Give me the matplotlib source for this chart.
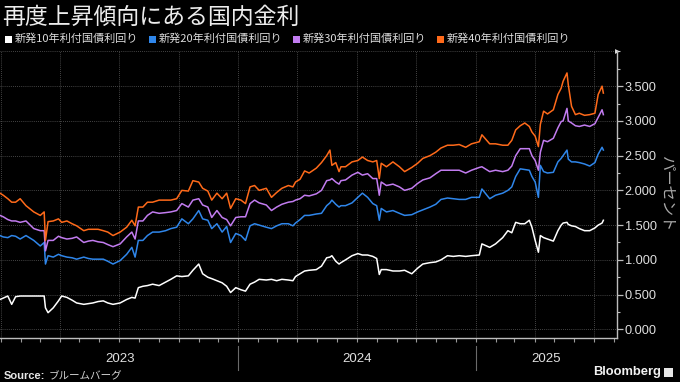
import matplotlib
matplotlib.use("Agg")
import matplotlib.pyplot as plt
import matplotlib.dates as mdates
import matplotlib.transforms as mtransforms
from matplotlib.patches import Rectangle
from matplotlib.ticker import MultipleLocator, FixedLocator
import pandas as pd
import numpy as np

# ---------------- data ----------------
title = "再度上昇傾向にある国内金利"
series_labels = ["新発10年利付国債利回り", "新発20年利付国債利回り",
                 "新発30年利付国債利回り", "新発40年利付国債利回り"]
ylabel = "パーセント"
source_label = "Source:"
source_text = "ブルームバーグ"
brand = "Bloomberg"
year_labels = ["2023", "2024", "2025"]

dates = [
    "2022-12-30", "2023-01-04", "2023-01-11", "2023-01-17", "2023-01-23", "2023-01-30", "2023-02-08", "2023-02-20", "2023-03-02", "2023-03-08",
    "2023-03-10", "2023-03-14", "2023-03-22", "2023-03-30", "2023-04-04", "2023-04-12", "2023-04-20", "2023-04-27", "2023-05-08", "2023-05-15",
    "2023-05-22", "2023-05-30", "2023-06-07", "2023-06-14", "2023-06-22", "2023-07-03", "2023-07-13", "2023-07-21", "2023-07-26", "2023-07-31",
    "2023-08-07", "2023-08-14", "2023-08-22", "2023-09-01", "2023-09-11", "2023-09-19", "2023-09-28", "2023-10-06", "2023-10-16", "2023-10-23",
    "2023-11-01", "2023-11-07", "2023-11-15", "2023-11-21", "2023-11-29", "2023-12-07", "2023-12-14", "2023-12-20", "2023-12-28", "2024-01-05",
    "2024-01-12", "2024-01-19", "2024-01-26", "2024-02-02", "2024-02-13", "2024-02-21", "2024-02-29", "2024-03-08", "2024-03-18", "2024-03-25",
    "2024-03-29", "2024-04-05", "2024-04-12", "2024-04-19", "2024-04-30", "2024-05-08", "2024-05-16", "2024-05-21", "2024-05-24", "2024-05-30",
    "2024-06-04", "2024-06-07", "2024-06-14", "2024-06-24", "2024-07-03", "2024-07-10", "2024-07-18", "2024-07-26", "2024-08-01", "2024-08-05",
    "2024-08-08", "2024-08-16", "2024-08-26", "2024-09-05", "2024-09-13", "2024-09-24", "2024-10-03", "2024-10-11", "2024-10-22", "2024-10-31",
    "2024-11-08", "2024-11-18", "2024-11-27", "2024-12-06", "2024-12-16", "2024-12-25", "2025-01-06", "2025-01-10", "2025-01-22", "2025-01-31",
    "2025-02-11", "2025-02-19", "2025-02-25", "2025-03-03", "2025-03-10", "2025-03-17", "2025-03-24", "2025-03-28", "2025-04-02", "2025-04-07",
    "2025-04-10", "2025-04-15", "2025-04-21", "2025-04-30", "2025-05-07", "2025-05-12", "2025-05-15", "2025-05-21", "2025-05-23", "2025-05-28",
    "2025-06-03", "2025-06-09", "2025-06-17", "2025-06-25", "2025-07-03", "2025-07-08", "2025-07-14", "2025-07-16",
]

jgb10 = [
    0.43, 0.45, 0.48, 0.36, 0.47, 0.48, 0.48, 0.48, 0.48, 0.48,
    0.31, 0.24, 0.31, 0.41, 0.48, 0.46, 0.42, 0.38, 0.36, 0.37,
    0.38, 0.40, 0.41, 0.38, 0.36, 0.38, 0.43, 0.46, 0.45, 0.60,
    0.62, 0.63, 0.65, 0.63, 0.68, 0.72, 0.77, 0.76, 0.77, 0.85,
    0.94, 0.80, 0.75, 0.73, 0.70, 0.67, 0.62, 0.53, 0.60, 0.57,
    0.55, 0.65, 0.68, 0.72, 0.71, 0.72, 0.70, 0.72, 0.71, 0.70,
    0.76, 0.80, 0.84, 0.85, 0.86, 0.91, 1.03, 1.04, 1.06, 0.98,
    0.94, 0.96, 1.00, 1.06, 1.09, 1.07, 1.07, 1.05, 1.02, 0.79,
    0.86, 0.86, 0.84, 0.84, 0.85, 0.80, 0.88, 0.94, 0.96, 0.97,
    1.00, 1.06, 1.05, 1.06, 1.05, 1.06, 1.07, 1.23, 1.18, 1.23,
    1.32, 1.42, 1.39, 1.54, 1.52, 1.52, 1.57, 1.47, 1.28, 1.11,
    1.35, 1.32, 1.30, 1.27, 1.42, 1.50, 1.53, 1.54, 1.51, 1.49,
    1.48, 1.45, 1.42, 1.42, 1.46, 1.50, 1.53, 1.57,
]
jgb20 = [
    1.35, 1.33, 1.32, 1.35, 1.34, 1.30, 1.35, 1.28, 1.20, 1.25,
    0.94, 1.06, 1.04, 1.08, 1.06, 1.04, 1.03, 1.01, 1.04, 1.02,
    1.01, 1.01, 1.01, 0.98, 0.94, 0.99, 1.08, 1.18, 1.04, 1.28,
    1.28, 1.35, 1.40, 1.40, 1.42, 1.45, 1.47, 1.59, 1.52, 1.59,
    1.71, 1.59, 1.57, 1.45, 1.52, 1.40, 1.48, 1.25, 1.38, 1.35,
    1.28, 1.49, 1.52, 1.50, 1.47, 1.45, 1.49, 1.52, 1.52, 1.49,
    1.53, 1.58, 1.64, 1.64, 1.66, 1.67, 1.78, 1.82, 1.86, 1.80,
    1.76, 1.78, 1.78, 1.82, 1.90, 1.96, 1.90, 1.81, 1.78, 1.57,
    1.74, 1.69, 1.71, 1.67, 1.64, 1.65, 1.69, 1.72, 1.76, 1.80,
    1.87, 1.89, 1.88, 1.87, 1.87, 1.90, 1.90, 2.02, 1.88, 1.93,
    1.96, 2.00, 2.05, 2.20, 2.31, 2.30, 2.29, 2.20, 2.12, 1.90,
    2.36, 2.27, 2.25, 2.26, 2.41, 2.46, 2.50, 2.58, 2.45, 2.41,
    2.41, 2.40, 2.38, 2.35, 2.40, 2.52, 2.62, 2.58,
]
jgb30 = [
    1.64, 1.62, 1.58, 1.56, 1.56, 1.54, 1.56, 1.45, 1.42, 1.42,
    1.13, 1.28, 1.28, 1.34, 1.32, 1.30, 1.31, 1.33, 1.25, 1.27,
    1.28, 1.26, 1.25, 1.22, 1.19, 1.23, 1.33, 1.40, 1.30, 1.56,
    1.56, 1.64, 1.69, 1.67, 1.68, 1.69, 1.71, 1.81, 1.76, 1.86,
    1.88, 1.79, 1.76, 1.61, 1.71, 1.61, 1.58, 1.49, 1.61, 1.62,
    1.62, 1.81, 1.86, 1.82, 1.79, 1.71, 1.76, 1.80, 1.83, 1.84,
    1.86, 1.88, 1.93, 1.92, 1.95, 2.00, 2.14, 2.15, 2.17, 2.12,
    2.09, 2.14, 2.15, 2.22, 2.26, 2.22, 2.24, 2.17, 2.17, 1.93,
    2.12, 2.07, 2.09, 2.05, 2.00, 2.03, 2.10, 2.15, 2.18, 2.24,
    2.29, 2.29, 2.29, 2.29, 2.25, 2.29, 2.33, 2.34, 2.27, 2.29,
    2.27, 2.29, 2.35, 2.50, 2.60, 2.60, 2.60, 2.50, 2.43, 2.29,
    2.55, 2.72, 2.70, 2.75, 2.90, 2.99, 3.00, 3.18, 3.00, 2.97,
    2.93, 2.92, 2.94, 2.92, 2.96, 3.05, 3.16, 3.09,
]
jgb40 = [
    1.96, 1.93, 1.88, 1.83, 1.83, 1.88, 1.78, 1.69, 1.64, 1.69,
    1.28, 1.55, 1.56, 1.59, 1.54, 1.56, 1.52, 1.49, 1.42, 1.44,
    1.44, 1.44, 1.42, 1.40, 1.35, 1.40, 1.47, 1.57, 1.49, 1.76,
    1.76, 1.83, 1.83, 1.86, 1.86, 1.86, 1.88, 2.00, 1.99, 2.14,
    2.12, 2.03, 1.99, 1.86, 1.96, 1.88, 1.96, 1.74, 1.88, 1.86,
    1.81, 2.05, 2.07, 2.00, 2.03, 1.90, 1.97, 2.03, 2.07, 2.05,
    2.12, 2.16, 2.28, 2.25, 2.32, 2.40, 2.50, 2.58, 2.36, 2.40,
    2.27, 2.34, 2.34, 2.41, 2.43, 2.48, 2.43, 2.41, 2.43, 2.17,
    2.39, 2.34, 2.41, 2.34, 2.27, 2.33, 2.39, 2.46, 2.50, 2.55,
    2.61, 2.65, 2.65, 2.66, 2.62, 2.67, 2.70, 2.80, 2.67, 2.67,
    2.65, 2.65, 2.72, 2.87, 2.93, 2.97, 2.92, 2.84, 2.78, 2.63,
    2.95, 3.14, 3.10, 3.16, 3.38, 3.47, 3.57, 3.69, 3.52, 3.21,
    3.09, 3.11, 3.08, 3.09, 3.11, 3.38, 3.50, 3.40,
]

ytick_values = [0.0, 0.5, 1.0, 1.5, 2.0, 2.5, 3.0, 3.5]

# ---------------- style ----------------
JP = "Noto Sans CJK JP"
plt.rcParams["font.family"] = [JP, "DejaVu Sans"]
colors = ["#ffffff", "#2f86ea", "#c27cf0", "#ff6a1a"]
W, H = 680, 382

def fx(px):
    return px / W

def fy(py):
    return 1 - py / H

fig = plt.figure(figsize=(W / 100, H / 100), dpi=100, facecolor="black")
ax = fig.add_axes([fx(0), fy(337.7), fx(617), fy(51.4) - fy(337.7)])
ax.set_facecolor("black")

x = pd.to_datetime(dates)
for vals, c in zip([jgb10, jgb20, jgb30, jgb40], colors):
    ax.plot(x, vals, color=c, lw=1.1, solid_joinstyle="round", zorder=3)

xmin, xmax = pd.Timestamp("2022-12-30"), pd.Timestamp("2025-08-06")
ax.set_xlim(xmin, xmax)
ax.set_ylim(-0.12, 4.0)

# grid
grid_kw = dict(color="#5a5a5a", lw=0.6, linestyle=(0, (1, 1.5)), zorder=1)
for v in ytick_values + [4.0]:
    ax.axhline(v, **grid_kw)
for q in pd.date_range("2023-01-01", xmax, freq="QS"):
    ax.axvline(q, **grid_kw)

# spines
for s in ["top", "left"]:
    ax.spines[s].set_visible(False)
for s in ["right", "bottom"]:
    ax.spines[s].set_color("#bdbdbd")
    ax.spines[s].set_linewidth(1.0)

# y axis on right
ax.yaxis.tick_right()
ax.yaxis.set_major_locator(FixedLocator(ytick_values))
ax.yaxis.set_minor_locator(MultipleLocator(0.25))
ax.set_yticklabels([f"{v:.3f}" for v in ytick_values])
ax.tick_params(axis="y", which="major", length=4, width=0.9, color="#bdbdbd",
               labelcolor="#e0e0e0", labelsize=9.2, pad=1.5)
ax.tick_params(axis="y", which="minor", length=2.5, width=0.8, color="#bdbdbd")
for lab in ax.get_yticklabels():
    lab.set_fontfamily("Liberation Sans")

# x axis: monthly ticks, no labels
ax.xaxis.set_major_locator(mdates.MonthLocator())
ax.xaxis.set_major_formatter(plt.NullFormatter())
ax.tick_params(axis="x", which="major", length=3, width=0.8, color="#9a9a9a")

# year labels and separators
blend = mtransforms.blended_transform_factory(ax.transData, fig.transFigure)
starts = [max(pd.Timestamp(f"{y}-01-01"), xmin) for y in year_labels]
ends = [min(pd.Timestamp(f"{int(y)+1}-01-01"), xmax) for y in year_labels]
for lab, s, e in zip(year_labels, starts, ends):
    mid = s + (e - s) / 2
    ax.text(mid, fy(359), lab, transform=blend, ha="center", va="center",
            color="#e0e0e0", fontsize=9.5, fontfamily="Liberation Sans")
for y in year_labels[1:]:
    d = pd.Timestamp(f"{y}-01-01")
    ax.plot([d, d], [fy(346), fy(370)], transform=blend, color="#6a6a6a",
            lw=0.8, clip_on=False)

# flag at top of right spine
ax.plot([1.0], [1.0], transform=ax.transAxes, marker=">", markersize=3.5,
        color="#e0e0e0", clip_on=False, markeredgewidth=0)

# title
fig.text(fx(2), fy(17), title, fontsize=16.5, color="#ededed", ha="left",
         va="center")

# legend
leg_x = [5, 149, 293, 437]
for lx, lab, c in zip(leg_x, series_labels, colors):
    fig.add_artist(Rectangle((fx(lx), fy(42.5)), 6.5 / W, 6.5 / H,
                             transform=fig.transFigure, facecolor=c,
                             edgecolor="none"))
    fig.text(fx(lx + 9.5), fy(39), lab, fontsize=8, color="#dcdcdc",
             ha="left", va="center")

# y label (right)
fig.text(fx(667), fy(193), ylabel, rotation=270, fontsize=11,
         color="#a8a8a8", ha="center", va="center")

# source and brand
fig.text(fx(4), fy(376), source_label, fontsize=8, fontweight="bold",
         color="#e6e6e6", ha="left", va="center", fontfamily="Liberation Sans")
fig.text(fx(49), fy(376), source_text, fontsize=7.6, color="#d0d0d0",
         ha="left", va="center")
fig.text(fx(593), fy(372), brand, fontsize=9.3, fontweight="bold",
         color="#f2f2f2", ha="left", va="center", fontfamily="Liberation Sans")
fig.add_artist(Rectangle((fx(664), fy(377)), 8.5 / W, 9.5 / H,
                         transform=fig.transFigure, facecolor="#e6e6e6",
                         edgecolor="none"))

fig.savefig("out.png", dpi=100, facecolor="black")
